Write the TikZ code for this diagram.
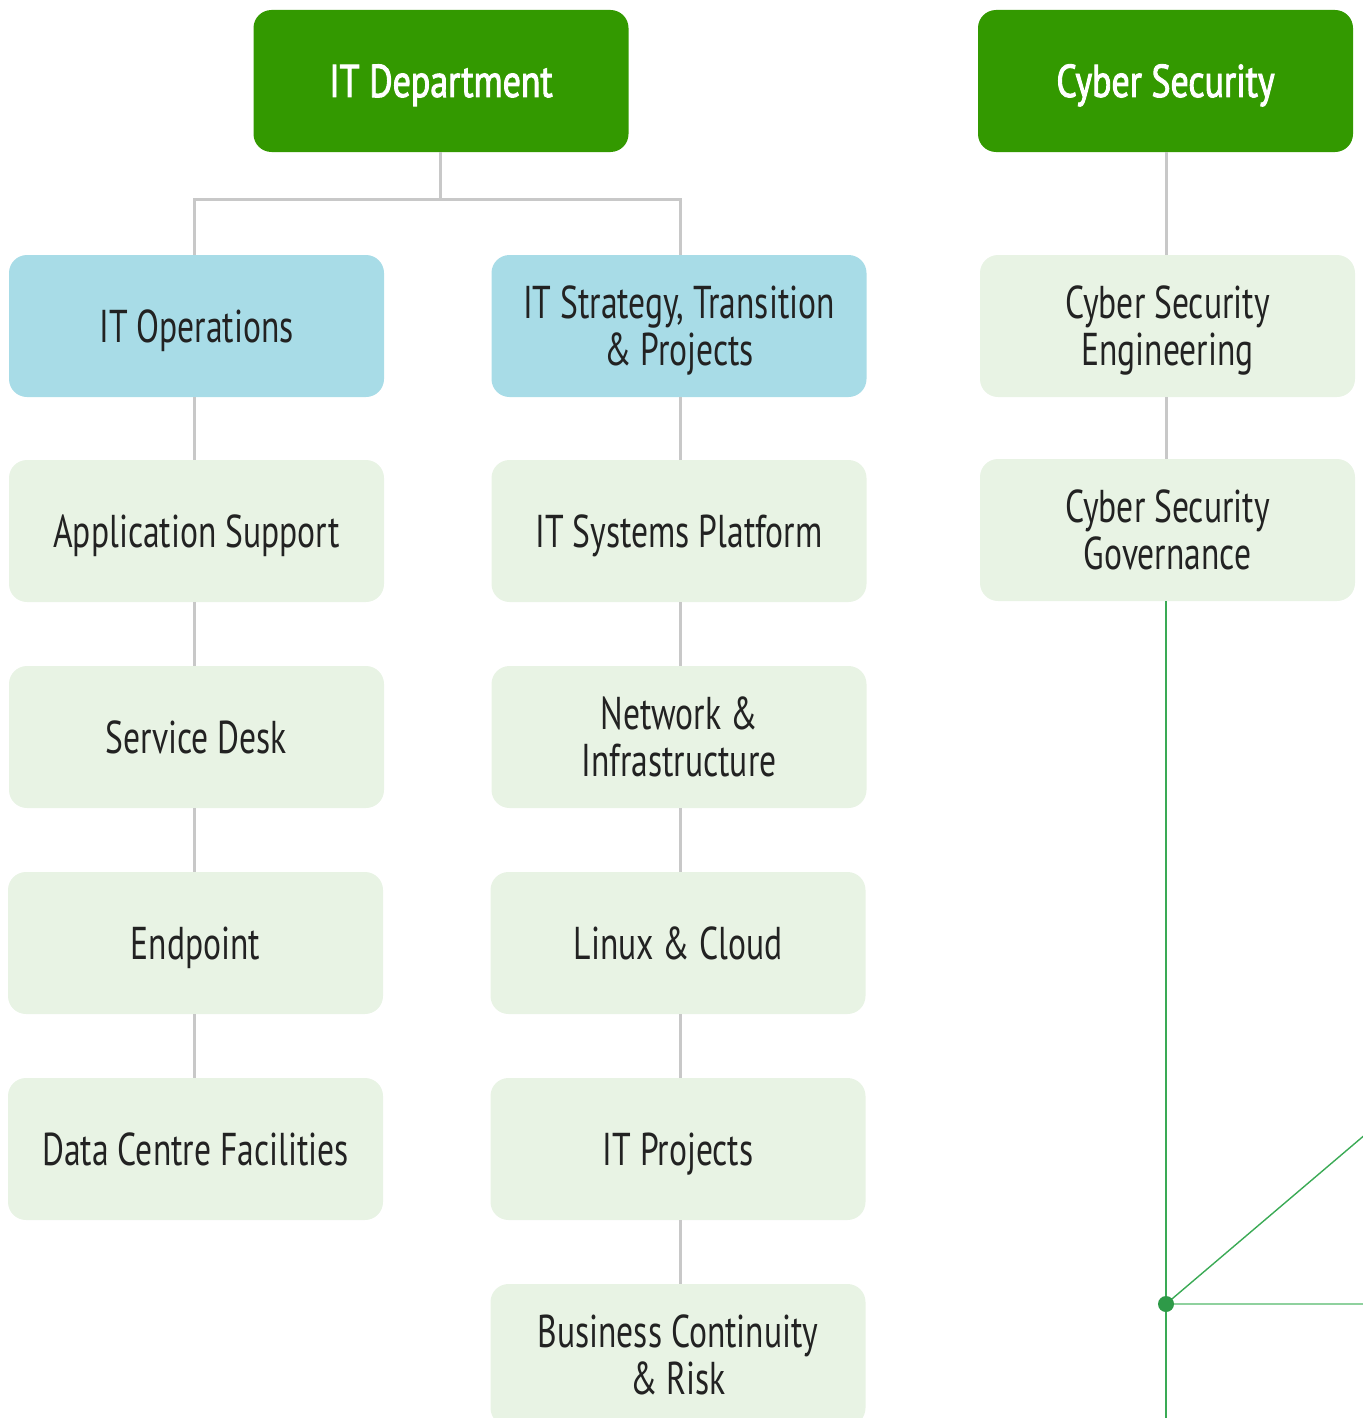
\documentclass[tikz,border=0pt]{standalone}
\usepackage{fontspec}
\setmainfont[FakeStretch=0.73]{PT Sans}
\newfontfamily\headfont[FakeStretch=0.78,FakeBold=2]{PT Sans}
\definecolor{hdgreen}{HTML}{339900}
\definecolor{subblue}{HTML}{A8DCE7}
\definecolor{leafgreen}{HTML}{E8F3E4}
\definecolor{conngray}{HTML}{C8C8C8}
\definecolor{txtdark}{HTML}{222222}
\definecolor{linegreen}{HTML}{3AAA55}
\definecolor{dotgreen}{HTML}{2E9A48}
\definecolor{palegreen}{HTML}{8FD19E}
\begin{document}
\begin{tikzpicture}[x=0.5pt,y=-0.5pt,
  box/.style={rounded corners=9pt,minimum width=187.5pt,minimum height=71pt,
    align=center,inner sep=0pt,font=\fontsize{23}{23.5}\selectfont,text=txtdark,
    text height=16pt,text depth=0pt},
  two/.style={text height=39.5pt,text depth=0pt},
  headbox/.style={box,fill=hdgreen,text=white,font=\headfont\fontsize{23}{23.5}\selectfont},
  midbox/.style={box,fill=subblue},
  leafbox/.style={box,fill=leafgreen},
  conn/.style={draw=conngray,line width=1.5pt},
  gline/.style={draw=linegreen,line width=0.8pt}]
\useasboundingbox (0,0) rectangle (1363,1418);
\clip (0,0) rectangle (1363,1418);
\coordinate (colA) at (194,0);
\coordinate (colB) at (680,0);
\coordinate (colC) at (1166,0);
\coordinate (bus) at (440,199);
% nodes (named, placed first so connectors can refer to them)
\path
  node[headbox] (itd) at (441,81) {IT Department}
  node[headbox] (cyb) at (1165.5,81) {Cyber Security}
  node[midbox] (ops) at (196.5,326) {IT Operations}
  node[midbox,two] (strat) at (679,326) {IT Strategy, Transition\\\& Projects}
  node[leafbox,two] (cse) at (1167.5,326) {Cyber Security\\Engineering}
  node[leafbox,two] (csg) at (1167.5,530) {Cyber Security\\Governance}
  node[leafbox] (app) at (196.5,531) {Application Support}
  node[leafbox] (desk) at (196.5,737) {Service Desk}
  node[leafbox] (endp) at (195.5,943) {Endpoint}
  node[leafbox] (dcf) at (195.5,1149) {Data Centre Facilities}
  node[leafbox] (sys) at (679,531) {IT Systems Platform}
  node[leafbox,two] (net) at (679,737) {Network \&\\Infrastructure}
  node[leafbox] (lin) at (678,943) {Linux \& Cloud}
  node[leafbox] (prj) at (678,1149) {IT Projects}
  node[leafbox,two] (bcr) at (678,1355) {Business Continuity\\\& Risk};
% gray connectors
\draw[conn] (itd.south -| bus) -- (bus);
\draw[conn] (ops.north -| colA) |- (bus) -| (strat.north -| colB);
\draw[conn] (ops.south -| colA) -- (app.north -| colA);
\draw[conn] (app.south -| colA) -- (desk.north -| colA);
\draw[conn] (desk.south -| colA) -- (endp.north -| colA);
\draw[conn] (endp.south -| colA) -- (dcf.north -| colA);
\draw[conn] (strat.south -| colB) -- (sys.north -| colB);
\draw[conn] (sys.south -| colB) -- (net.north -| colB);
\draw[conn] (net.south -| colB) -- (lin.north -| colB);
\draw[conn] (lin.south -| colB) -- (prj.north -| colB);
\draw[conn] (prj.south -| colB) -- (bcr.north -| colB);
\draw[conn] (cyb.south -| colC) -- (cse.north -| colC);
\draw[conn] (cse.south -| colC) -- (csg.north -| colC);
% green lines
\coordinate (hub) at (1166,1304);
\coordinate (gend) at (1166,1430);
\coordinate (hend) at (1370,1304);
\coordinate (dend) at (1380,1122);
\draw[gline] (csg.south -| hub) -- (gend);
\draw[draw=palegreen,line width=1.1pt] (hub) -- (hend);
\draw[gline,line width=0.7pt] (hub) -- (dend);
\fill[dotgreen] (hub) circle (4pt);
\end{tikzpicture}
\end{document}
